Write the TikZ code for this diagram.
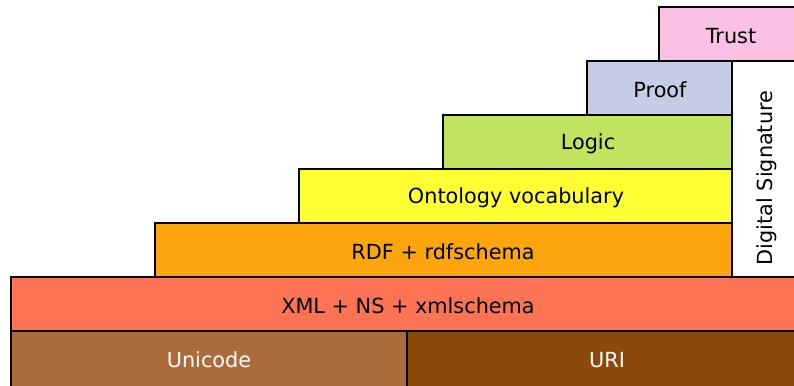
\documentclass[tikz,border=0pt]{standalone}
\usepackage{fontspec}
\setmainfont{DejaVu Sans}
\begin{document}
\begin{tikzpicture}[x=1pt,y=-1pt,
  layer/.style={draw=black, line width=1.3pt},
  label/.style={font=\fontsize{20.8}{24}\selectfont, inner sep=0pt}]
\definecolor{trustc}{RGB}{251,193,228}
\definecolor{proofc}{RGB}{197,205,230}
\definecolor{logicc}{RGB}{192,228,96}
\definecolor{ontoc}{RGB}{255,255,51}
\definecolor{rdfc}{RGB}{252,165,12}
\definecolor{xmlc}{RGB}{255,115,85}
\definecolor{unic}{RGB}{171,107,58}
\definecolor{uric}{RGB}{139,74,12}
\path[use as bounding box] (0,0) rectangle (794,385);
\clip (0,0) rectangle (794,385);
% stack of layers, bottom to top
\path[layer, fill=unic] (11,331) rectangle (407,395);
\node[label, text=white] (unicode) at (209,360) {Unicode};
\path[layer, fill=uric] (407,331) rectangle (805,395);
\node[label, text=white] (uri) at (607,360) {URI};
\path[layer, fill=xmlc] (11,277) rectangle (805,331);
\node[label] (xml) at (408,306) {XML + NS + xmlschema};
\path[layer, fill=rdfc] (155,223) rectangle (732,277);
\node[label] (rdf) at (443,252) {RDF + rdfschema};
\path[layer, fill=ontoc] (299,169) rectangle (732,223);
\node[label] (onto) at (516,198) {Ontology vocabulary};
\path[layer, fill=logicc] (443,115) rectangle (732,169);
\node[label] (logic) at (588,144) {Logic};
\path[layer, fill=proofc] (587,61) rectangle (732,115);
\node[label] (proof) at (660,90) {Proof};
\path[layer, fill=trustc] (659,7) rectangle (805,61);
\node[label] (trust) at (731,36) {Trust};
% side column
\path[layer, fill=white] (732,61) rectangle (805,277);
\node[label, rotate=90] (dsig) at (767,178) {Digital Signature};
\end{tikzpicture}
\end{document}
